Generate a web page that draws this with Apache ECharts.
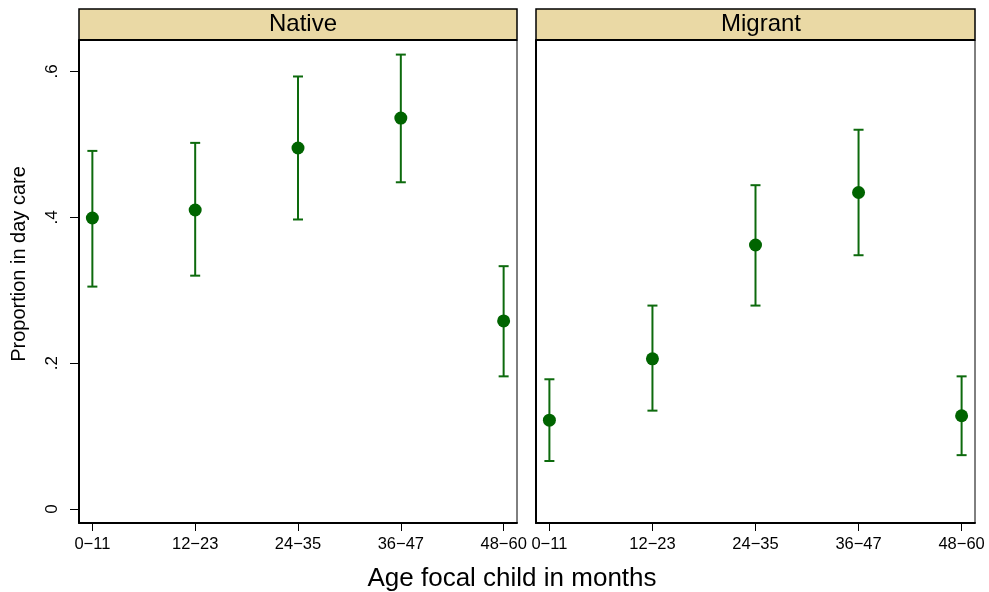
<!DOCTYPE html>
<html>
<head>
<meta charset="utf-8">
<script src="https://cdn.jsdelivr.net/npm/echarts@6/dist/echarts.min.js"></script>
<style>
html,body{margin:0;padding:0;background:#fff;}
#chart{width:989px;height:592px;}
</style>
</head>
<body>
<div id="chart"></div>
<script>
// ---- data ----
var categories = ['0\u221211', '12\u221223', '24\u221235', '36\u221247', '48\u221260'];
var panels = ['Native', 'Migrant'];
var nativeMean  = [0.399, 0.410, 0.495, 0.536, 0.258];
var nativeLow   = [0.305, 0.320, 0.397, 0.448, 0.182];
var nativeHigh  = [0.491, 0.502, 0.593, 0.623, 0.333];
var migrantMean = [0.122, 0.206, 0.362, 0.434, 0.128];
var migrantLow  = [0.066, 0.135, 0.279, 0.348, 0.074];
var migrantHigh = [0.178, 0.279, 0.444, 0.520, 0.182];
var yTicks = [0, 0.2, 0.4, 0.6];
var xTitle = 'Age focal child in months';
var yTitle = 'Proportion in day care';

var FONT = '"Liberation Sans", Arial, Helvetica, sans-serif';
var chart = echarts.init(document.getElementById('chart'), null, {renderer: 'canvas'});

var grids = [
  {left: 79, top: 40, width: 438, height: 483},
  {left: 536, top: 40, width: 439, height: 483}
];

function pts(mean) { return mean.map(function (v, i) { return [i, v]; }); }
function bars(lo, hi) { return lo.map(function (v, i) { return [i, v, hi[i]]; }); }

function renderErr(params, api) {
  var x = api.value(0);
  var a = api.coord([x, api.value(1)]);
  var b = api.coord([x, api.value(2)]);
  var hw = 5;
  var st = {stroke: '#0d6a0d', lineWidth: 2};
  return {
    type: 'group',
    children: [
      {type: 'line', shape: {x1: a[0], y1: a[1], x2: b[0], y2: b[1]}, style: st},
      {type: 'line', shape: {x1: a[0] - hw, y1: a[1], x2: a[0] + hw, y2: a[1]}, style: st},
      {type: 'line', shape: {x1: b[0] - hw, y1: b[1], x2: b[0] + hw, y2: b[1]}, style: st}
    ]
  };
}

function xAxisFor(i) {
  return {
    type: 'value', gridIndex: i, min: -0.13, max: 4.13,
    splitLine: {show: false},
    axisLine: {show: true, onZero: false, lineStyle: {color: '#000', width: 2}},
    axisTick: {show: true, customValues: [0, 1, 2, 3, 4], length: 8, lineStyle: {color: '#000', width: 1}},
    axisLabel: {
      show: true, customValues: [0, 1, 2, 3, 4], margin: 13,
      color: '#000', fontSize: 16.5, fontFamily: FONT,
      formatter: function (v) { return categories[Math.round(v)]; }
    }
  };
}
function yAxisFor(i) {
  return {
    type: 'value', gridIndex: i, min: -0.019, max: 0.643,
    splitLine: {show: false},
    axisLine: {show: true, onZero: false, lineStyle: {color: '#000', width: 2}},
    axisTick: {show: i === 0, customValues: yTicks, length: 9, lineStyle: {color: '#000', width: 1}},
    axisLabel: {
      show: i === 0, customValues: yTicks, rotate: 90, margin: 18,
      color: '#000', fontSize: 17, fontFamily: FONT,
      formatter: function (v) { return v === 0 ? '0' : String(+v.toFixed(1)).replace(/^0/, ''); }
    }
  };
}

var stripGraphics = grids.map(function (g) {
  return {
    type: 'rect', z: 0,
    shape: {x: g.left, y: 9, width: g.width, height: 31},
    style: {fill: '#EAD9A5', stroke: '#000', lineWidth: 1.5}
  };
});
var stripLines = grids.map(function (g) {
  return {
    type: 'line', z: 1,
    shape: {x1: g.left, y1: 40, x2: g.left + g.width, y2: 40},
    style: {stroke: '#000', lineWidth: 2}
  };
});

var option = {
  animation: false,
  backgroundColor: '#fff',
  title: [
    {text: panels[0], left: 298, top: 7, textAlign: 'center',
     textStyle: {fontFamily: FONT, fontSize: 24, fontWeight: 'normal', color: '#000'}},
    {text: panels[1], left: 756, top: 7, textAlign: 'center',
     textStyle: {fontFamily: FONT, fontSize: 24, fontWeight: 'normal', color: '#000'}},
    {text: xTitle, left: 507, top: 561, textAlign: 'center',
     textStyle: {fontFamily: FONT, fontSize: 26, fontWeight: 'normal', color: '#000'}}
  ],
  graphic: stripGraphics.concat(stripLines).concat([
    {type: 'text', x: 19, y: 264, rotation: Math.PI / 2,
     style: {text: yTitle, font: '20px ' + FONT, fill: '#000', textAlign: 'center', textVerticalAlign: 'middle'}}
  ]),
  grid: grids.map(function (g) {
    return {left: g.left, top: g.top, width: g.width, height: g.height, show: true, borderColor: '#000', borderWidth: 1, backgroundColor: '#fff'};
  }),
  xAxis: [xAxisFor(0), xAxisFor(1)],
  yAxis: [yAxisFor(0), yAxisFor(1)],
  series: [
    {type: 'custom', xAxisIndex: 0, yAxisIndex: 0, renderItem: renderErr, data: bars(nativeLow, nativeHigh), z: 2},
    {type: 'scatter', xAxisIndex: 0, yAxisIndex: 0, data: pts(nativeMean), symbol: 'circle', symbolSize: 13,
     itemStyle: {color: '#006400', opacity: 1}, z: 3},
    {type: 'custom', xAxisIndex: 1, yAxisIndex: 1, renderItem: renderErr, data: bars(migrantLow, migrantHigh), z: 2},
    {type: 'scatter', xAxisIndex: 1, yAxisIndex: 1, data: pts(migrantMean), symbol: 'circle', symbolSize: 13,
     itemStyle: {color: '#006400', opacity: 1}, z: 3}
  ]
};
chart.setOption(option);
</script>
</body>
</html>
